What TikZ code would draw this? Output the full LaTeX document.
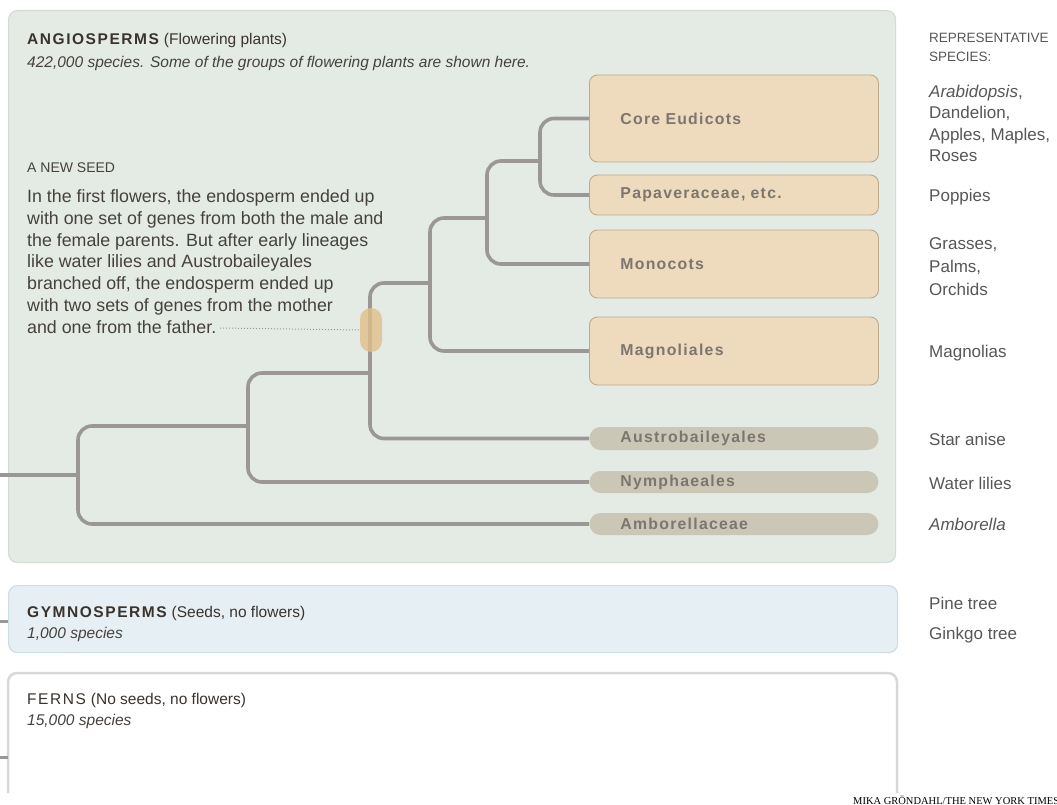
\documentclass[tikz,border=0pt]{standalone}
\usepackage{fontspec}
\setmainfont{Liberation Sans}
\newfontfamily\spacedfont[LetterSpace=10]{Liberation Sans}
\newfontfamily\cladefont[LetterSpace=8]{Liberation Sans}
\newfontfamily\creditfont{Liberation Serif}
\usetikzlibrary{positioning}

\definecolor{angiofill}{HTML}{E4EBE5}
\definecolor{angioedge}{HTML}{D3DCD4}
\definecolor{gymnofill}{HTML}{E6EFF3}
\definecolor{gymnoedge}{HTML}{CCDDE6}
\definecolor{fernedge}{HTML}{D8D8D8}
\definecolor{branchgray}{HTML}{9C9797}
\definecolor{cladefill}{HTML}{EEDABC}
\definecolor{cladeedge}{HTML}{BCAA8C}
\definecolor{basalfill}{HTML}{CBC7B6}
\definecolor{labelgray}{HTML}{7B7670}
\definecolor{titletext}{HTML}{3A332C}
\definecolor{bodytext}{HTML}{46413C}
\definecolor{sidetext}{HTML}{575757}
\definecolor{seedmark}{HTML}{E0BE8A}

\newcommand{\pxsize}[2]{\fontsize{#1}{#2}\selectfont}

\begin{document}
\begin{tikzpicture}[x=1pt, y=-1pt,
    branch/.style={draw=branchgray, line width=3.6pt, rounded corners=14pt},
    clade/.style={draw=cladeedge, fill=cladefill, line width=0.9pt, rounded corners=8pt,
        anchor=west, text width=227pt, inner xsep=31pt, inner ysep=0pt, align=left,
        font=\cladefont\bfseries\pxsize{15.8}{18}, text=labelgray},
    basal/.style={clade, draw=none, fill=basalfill, rounded corners=11pt},
    panel/.style={anchor=north west, inner sep=0pt, rounded corners=9pt, line width=1.2pt},
    plain/.style={anchor=base west, align=left, inner sep=0pt, text=bodytext},
    species/.style={plain, text=sidetext, font=\pxsize{17}{21.5}}]

\useasboundingbox (0,0) rectangle (1057,805);
\fill[white] (0,0) rectangle (1057,805);

% panels
\node[panel, fill=angiofill, draw=angioedge, minimum width=887pt, minimum height=552pt] (angio) at (8,10) {};
\node[panel, fill=gymnofill, draw=gymnoedge, minimum width=889pt, minimum height=67pt] (gymno) at (8,585) {};
\draw[draw=fernedge, line width=2.5pt, rounded corners=9pt, fill=white] (8,793) -- (8,673) -- (897,673) -- (897,793);

% panel texts (multi-line nodes sit on their last baseline)
\node[plain, text=titletext, font=\pxsize{15.5}{18}] (angiotitle) at (27,45)
    {{\spacedfont\bfseries ANGIOSPERMS}\hspace{5pt}(Flowering plants)};
\node[plain, font=\itshape\pxsize{15.5}{18}] (angiocount) at (27,68)
    {422,000 species. Some of the groups of flowering plants are shown here.};
\node[plain, text=titletext, font=\pxsize{15.5}{18}] (gymnotitle) at (27,617)
    {{\spacedfont\bfseries GYMNOSPERMS}\hspace{5pt}(Seeds, no flowers)};
\node[plain, font=\itshape\pxsize{15.5}{18}] (gymnocount) at (27,638) {1,000 species};
\node[plain, text=titletext, font=\pxsize{15.5}{18}] (ferntitle) at (27,704)
    {{\spacedfont FERNS}\hspace{5pt}(No seeds, no flowers)};
\node[plain, font=\itshape\pxsize{15.5}{18}] (ferncount) at (27,725) {15,000 species};

% note
\node[plain, font=\pxsize{14}{18}] (notehead) at (27,173) {A NEW SEED};
\node[plain, font=\pxsize{17.8}{21.7}] (notebody) at (27,333)
    {In the first flowers, the endosperm ended up\\
     with one set of genes from both the male and\\
     the female parents. But after early lineages\\
     like water lilies and Austrobaileyales\\
     branched off, the endosperm ended up\\
     with two sets of genes from the mother\\
     and one from the father.};
\coordinate (notetail) at (220,328);

% clades
\node[clade, minimum height=87pt] (core) at (589,118.5) {Core Eudicots};
\node[clade, minimum height=40pt] (papav) at (589,195) {Papaveraceae, etc.};
\node[clade, minimum height=68pt] (mono) at (589,264) {Monocots};
\node[clade, minimum height=68pt] (magnol) at (589,351) {Magnoliales};
\node[basal, minimum height=23pt] (austro) at (589,438.5) {Austrobaileyales};
\node[basal, minimum height=22pt] (nymph) at (589,482) {Nymphaeales};
\node[basal, minimum height=22pt] (ambor) at (589,524) {Amborellaceae};

% tree
\coordinate (stem) at (0,475);
\coordinate (root) at (78,475);
\coordinate (n2) at (248,426);
\coordinate (n3) at (370,373);
\coordinate (n4) at (430,283);
\coordinate (n5) at (487,218);
\coordinate (n6) at (540,161);
\draw[branch] (stem) -- (root);
\draw[branch] (root) |- (n2);
\draw[branch] (root) |- (ambor.west);
\draw[branch] (n2) |- (n3);
\draw[branch] (n2) |- (nymph.west);
\draw[branch] (n3) |- (n4);
\draw[branch] (n3) |- (austro.west);
\draw[branch] (n4) |- (n5);
\draw[branch] (n4) |- (magnol.west);
\draw[branch] (n5) |- (n6);
\draw[branch] (n5) |- (mono.west);
\draw[branch] (n6) |- (core.west);
\draw[branch] (n6) |- (papav.west);
\coordinate (gymnostem) at (0,621);
\coordinate (gymnoedge) at (8,621);
\draw[branch, line width=3pt] (gymnostem) -- (gymnoedge);
\coordinate (fernstem) at (0,757);
\coordinate (fernsedge) at (8,757);
\draw[branch, line width=3pt] (fernstem) -- (fernsedge);

% new seed mark
\node[fill=seedmark, fill opacity=0.8, rounded corners=11pt, minimum width=22pt, minimum height=44pt, inner sep=0pt] (newseed) at (371,330) {};
\draw[branchgray, dotted, line width=1pt] (notetail) -- (newseed.west);

% representative species
\node[plain, text=sidetext, font=\pxsize{13.5}{19}] (reptitle) at (929,62) {REPRESENTATIVE\\SPECIES:};
\node[species] (coresp) at (929,162) {\textit{Arabidopsis},\\Dandelion,\\Apples, Maples,\\Roses};
\node[species] (papavsp) at (929,202) {Poppies};
\node[species, font=\pxsize{17}{23}] (monosp) at (929,295) {Grasses,\\Palms,\\Orchids};
\node[species] (magnolsp) at (929,357) {Magnolias};
\node[species] (austrosp) at (929,445) {Star anise};
\node[species] (nymphsp) at (929,489) {Water lilies};
\node[species] (amborsp) at (929,530) {\textit{Amborella}};
\node[species] (pinesp) at (929,609) {Pine tree};
\node[species] (ginkgosp) at (929,639) {Ginkgo tree};

% credit
\node[plain, text=black, font=\creditfont\pxsize{10.5}{12}] (credit) at (853,804) {MIKA GRÖNDAHL/THE NEW YORK TIMES};
\end{tikzpicture}
\end{document}
